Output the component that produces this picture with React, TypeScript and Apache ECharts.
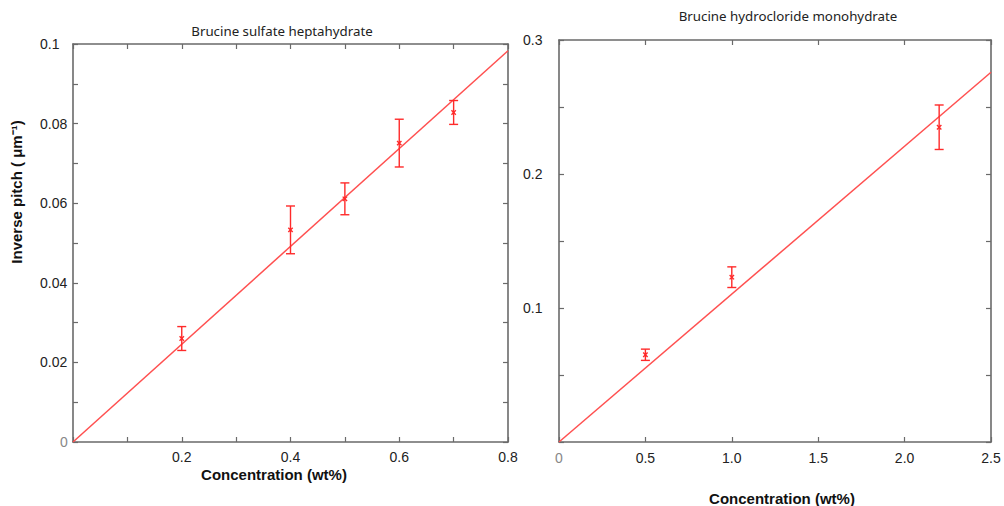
import React, { useEffect, useRef } from "react";
import * as echarts from "echarts";

// Left panel: Brucine sulfate heptahydrate
const leftConc = [0.2, 0.4, 0.5, 0.6, 0.7];
const leftInvPitch = [0.026, 0.0533, 0.0611, 0.0751, 0.0828];
const leftErr = [0.003, 0.006, 0.004, 0.006, 0.003];
const leftFitX = [0, 0.8];
const leftFitY = [0, 0.0983];

// Right panel: Brucine hydrocloride monohydrate
const rightConc = [0.5, 1.0, 2.2];
const rightInvPitch = [0.0651, 0.123, 0.2349];
const rightErr = [0.0042, 0.0077, 0.0166];
const rightFitX = [0, 2.5];
const rightFitY = [0, 0.2759];

const leftTitle = "Brucine sulfate heptahydrate";
const rightTitle = "Brucine hydrocloride monohydrate";
const xName = "Concentration (wt%)";
const yName = "Inverse pitch ( μm⁻¹)";

const FRAME = "#6a6a6a";
const RED_BAR = "#ff2a2a";
const RED_LINE = "#ff5050";
const TICK_FONT = "'Liberation Sans', Arial, sans-serif";

function errRender(params: any, api: any) {
  const x = api.value(0);
  const y = api.value(1);
  const e = api.value(2);
  const c = api.coord([x, y]);
  const t = api.coord([x, y + e]);
  const b = api.coord([x, y - e]);
  const cap = 4.5;
  const m = 2.2;
  const style = { stroke: RED_BAR, lineWidth: 1.4 };
  return {
    type: "group",
    children: [
      { type: "line", shape: { x1: t[0], y1: t[1], x2: b[0], y2: b[1] }, style },
      { type: "line", shape: { x1: t[0] - cap, y1: t[1], x2: t[0] + cap, y2: t[1] }, style },
      { type: "line", shape: { x1: b[0] - cap, y1: b[1], x2: b[0] + cap, y2: b[1] }, style },
      { type: "line", shape: { x1: c[0] - m, y1: c[1] - m, x2: c[0] + m, y2: c[1] + m }, style },
      { type: "line", shape: { x1: c[0] - m, y1: c[1] + m, x2: c[0] + m, y2: c[1] - m }, style },
    ],
  };
}

const axisLine = { show: true, onZero: false, lineStyle: { color: FRAME, width: 1.6 } };
const axisTick = { show: true, inside: true, length: 5, lineStyle: { color: FRAME, width: 1.2 } };
const zeroRich = { z: { color: "#888", fontSize: 14, fontFamily: TICK_FONT } };

export default function App() {
  const ref = useRef<HTMLDivElement>(null);
  useEffect(() => {
    if (!ref.current) return;
    const chart = echarts.init(ref.current, undefined, { renderer: "svg" });
    const labelBase = { fontSize: 14, color: "#222", fontFamily: TICK_FONT };
    chart.setOption({
      animation: false,
      backgroundColor: "#fff",
      grid: [
        { left: 73, top: 44, width: 435, height: 398, show: false },
        { left: 559, top: 40, width: 432, height: 402, show: false },
      ],
      xAxis: [
        {
          type: "value", gridIndex: 0, min: 0, max: 0.8, interval: 0.1, position: "bottom",
          axisLine, axisTick, splitLine: { show: false },
          axisLabel: {
            ...labelBase, margin: 8, showMinLabel: true, showMaxLabel: true,
            formatter: (v: number) => {
              const k = Math.round(v * 10);
              return k > 0 && k % 2 === 0 ? v.toFixed(1) : "";
            },
          },
        },
        {
          type: "value", gridIndex: 0, min: 0, max: 0.8, interval: 0.1, position: "top",
          axisLine, axisTick, splitLine: { show: false }, axisLabel: { show: false },
        },
        {
          type: "value", gridIndex: 1, min: 0, max: 2.5, interval: 0.5, position: "bottom",
          axisLine, axisTick, splitLine: { show: false },
          axisLabel: {
            ...labelBase, margin: 9, rich: zeroRich,
            formatter: (v: number) => (v === 0 ? "{z|0}" : v.toFixed(1)),
          },
        },
        {
          type: "value", gridIndex: 1, min: 0, max: 2.5, interval: 0.5, position: "top",
          axisLine, axisTick, splitLine: { show: false }, axisLabel: { show: false },
        },
      ],
      yAxis: [
        {
          type: "value", gridIndex: 0, min: 0, max: 0.1, interval: 0.01, position: "left",
          axisLine, axisTick, splitLine: { show: false },
          axisLabel: {
            ...labelBase, align: "left", margin: 33,
            rich: { z: { color: "#888", fontSize: 14, fontFamily: TICK_FONT, padding: [0, 0, 0, 20] } },
            formatter: (v: number) => {
              const k = Math.round(v * 100);
              if (k === 0) return "{z|0}";
              return k % 2 === 0 ? String(+v.toFixed(2)) : "";
            },
          },
        },
        {
          type: "value", gridIndex: 0, min: 0, max: 0.1, interval: 0.01, position: "right",
          axisLine, axisTick, splitLine: { show: false }, axisLabel: { show: false },
        },
        {
          type: "value", gridIndex: 1, min: 0, max: 0.3, interval: 0.05, position: "left",
          axisLine, axisTick, splitLine: { show: false },
          axisLabel: {
            ...labelBase, align: "left", margin: 36, padding: [8, 0, 0, 0],
            formatter: (v: number) => {
              const k = Math.round(v * 100);
              return k > 0 && k % 10 === 0 ? v.toFixed(1) : "";
            },
          },
        },
        {
          type: "value", gridIndex: 1, min: 0, max: 0.3, interval: 0.05, position: "right",
          axisLine, axisTick, splitLine: { show: false }, axisLabel: { show: false },
        },
      ],
      series: [
        {
          type: "line", xAxisIndex: 0, yAxisIndex: 0, showSymbol: false, symbol: "none",
          data: leftFitX.map((x, i) => [x, leftFitY[i]]),
          lineStyle: { color: RED_LINE, width: 1.5 }, z: 3,
        },
        {
          type: "custom", xAxisIndex: 0, yAxisIndex: 0, renderItem: errRender,
          data: leftConc.map((x, i) => [x, leftInvPitch[i], leftErr[i]]), z: 4,
        },
        {
          type: "line", xAxisIndex: 2, yAxisIndex: 2, showSymbol: false, symbol: "none",
          data: rightFitX.map((x, i) => [x, rightFitY[i]]),
          lineStyle: { color: RED_LINE, width: 1.5 }, z: 3,
        },
        {
          type: "custom", xAxisIndex: 2, yAxisIndex: 2, renderItem: errRender,
          data: rightConc.map((x, i) => [x, rightInvPitch[i], rightErr[i]]), z: 4,
        },
      ],
      graphic: [
        {
          type: "text", x: 282, y: 31,
          style: { text: leftTitle, fontSize: 13.3, fontFamily: "'Noto Sans', sans-serif", fill: "#222", align: "center", verticalAlign: "middle" },
        },
        {
          type: "text", x: 788, y: 16,
          style: { text: rightTitle, fontSize: 13.3, fontFamily: "'Noto Sans', sans-serif", fill: "#222", align: "center", verticalAlign: "middle" },
        },
        {
          type: "text", x: 274, y: 474,
          style: { text: xName, fontSize: 15, fontWeight: "bold", fontFamily: TICK_FONT, fill: "#111", align: "center", verticalAlign: "middle" },
        },
        {
          type: "text", x: 782, y: 498,
          style: { text: xName, fontSize: 15, fontWeight: "bold", fontFamily: TICK_FONT, fill: "#111", align: "center", verticalAlign: "middle" },
        },
        {
          type: "text", x: 16, y: 192, rotation: Math.PI / 2,
          style: { text: yName, fontSize: 15, fontWeight: "bold", fontFamily: TICK_FONT, fill: "#111", align: "center", verticalAlign: "middle" },
        },
      ],
    });
    return () => chart.dispose();
  }, []);
  return (
    <div
      ref={ref}
      style={{ position: "absolute", left: 0, top: 0, width: 1004, height: 506 }}
    />
  );
}
